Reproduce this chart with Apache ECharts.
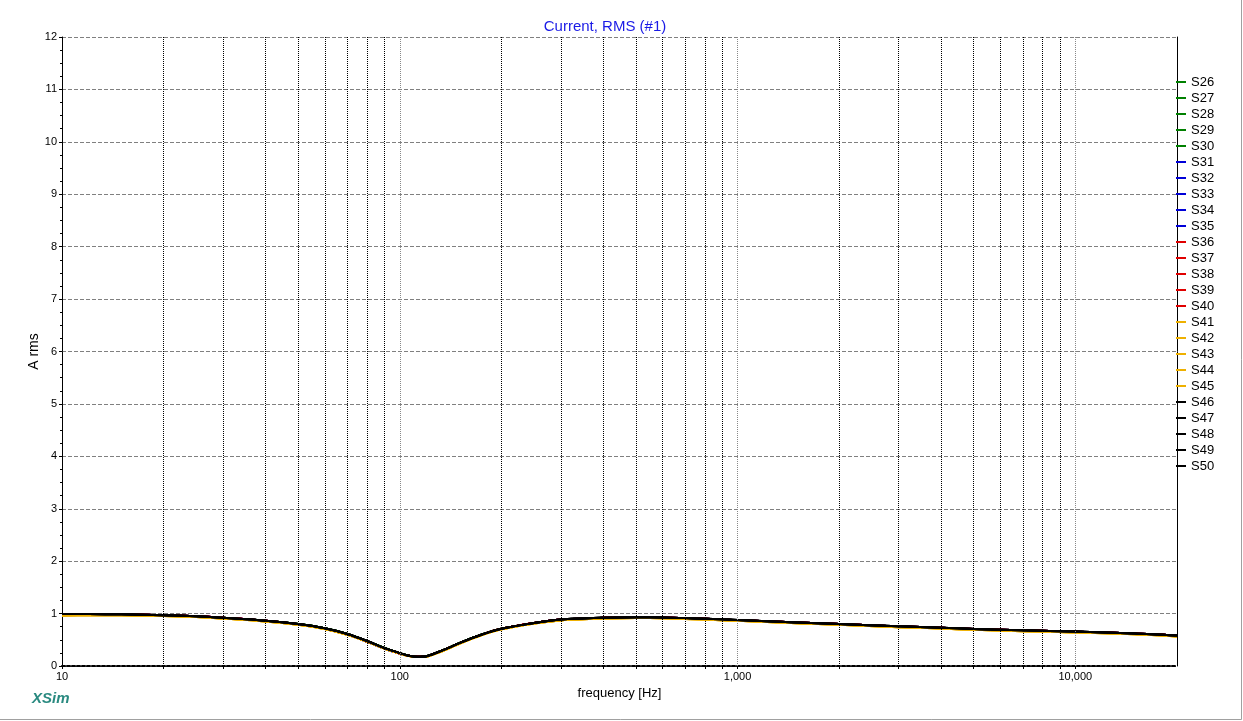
<!DOCTYPE html>
<html>
<head>
<meta charset="utf-8">
<script src="https://cdn.jsdelivr.net/npm/echarts@6/dist/echarts.min.js"></script>
<style>html,body{margin:0;padding:0;background:#fff;}#c{width:1243px;height:721px;}</style>
</head>
<body>
<div id="c"></div>
<script>
// frequencies [Hz]
const freqs = [10,12,15,20,25,30,40,50,60,70,80,90,100,105,110,115,120,130,140,150,175,200,250,300,400,500,600,700,800,1000,1500,2000,3000,4000,5000,7000,10000,15000,20000];
// current RMS per colour group (A rms)
const greenVals = [0.99,0.99,0.985,0.97,0.95,0.92,0.865,0.80,0.72,0.61,0.475,0.345,0.245,0.205,0.183,0.176,0.185,0.265,0.35,0.435,0.60,0.71,0.82,0.885,0.92,0.93,0.925,0.912,0.90,0.875,0.83,0.80,0.755,0.73,0.705,0.68,0.655,0.62,0.58];
const blueVals  = [0.99,0.99,0.985,0.97,0.95,0.92,0.862,0.795,0.712,0.60,0.465,0.335,0.238,0.2,0.18,0.174,0.183,0.262,0.347,0.432,0.598,0.708,0.82,0.885,0.92,0.93,0.925,0.912,0.90,0.875,0.83,0.80,0.755,0.73,0.705,0.68,0.655,0.62,0.58];
const redVals   = [0.99,0.99,0.985,0.97,0.95,0.92,0.862,0.795,0.712,0.60,0.467,0.337,0.24,0.201,0.181,0.175,0.184,0.263,0.348,0.433,0.599,0.709,0.82,0.885,0.92,0.93,0.925,0.912,0.90,0.875,0.83,0.80,0.755,0.73,0.705,0.68,0.655,0.62,0.58];
const goldVals  = [0.965,0.97,0.97,0.955,0.935,0.905,0.85,0.785,0.705,0.595,0.465,0.335,0.24,0.2,0.178,0.172,0.178,0.255,0.34,0.425,0.59,0.70,0.81,0.87,0.905,0.915,0.91,0.898,0.885,0.862,0.815,0.785,0.74,0.715,0.69,0.665,0.64,0.605,0.565];
const blackVals = [0.99,0.99,0.985,0.97,0.95,0.92,0.865,0.80,0.72,0.61,0.478,0.345,0.245,0.205,0.183,0.176,0.186,0.268,0.352,0.437,0.602,0.712,0.822,0.887,0.922,0.932,0.927,0.914,0.902,0.877,0.832,0.802,0.757,0.732,0.707,0.682,0.657,0.622,0.582];

const seriesNames = ['S26','S27','S28','S29','S30','S31','S32','S33','S34','S35','S36','S37','S38','S39','S40','S41','S42','S43','S44','S45','S46','S47','S48','S49','S50'];
const groups = [
  {vals: greenVals, color: '#008000'},
  {vals: blueVals,  color: '#0000d8'},
  {vals: redVals,   color: '#e00000'},
  {vals: goldVals,  color: '#eeb000'},
  {vals: blackVals, color: '#000000'}
];
// grid line positions
const minorGrid = [20,30,40,50,60,70,80,90,200,300,400,500,600,700,800,900,2000,3000,4000,5000,6000,7000,8000,9000];
const majorGrid = [100,1000,10000];
const xLabels = [10,100,1000,10000];
const tickVals = [10,20,30,40,50,60,70,80,90,100,200,300,400,500,600,700,800,900,1000,2000,3000,4000,5000,6000,7000,8000,9000,10000];

const FONT = 'Liberation Sans';
const series = seriesNames.map((name, i) => {
  const g = groups[Math.floor(i / 5)];
  const s = {
    name: name,
    type: 'line',
    xAxisIndex: 0, yAxisIndex: 0,
    symbol: 'none',
    smooth: 0.3,
    color: g.color,
    lineStyle: {width: 2, color: g.color},
    data: freqs.map((f, k) => [f, g.vals[k]]),
    z: 3
  };
  if (i === 0) {
    s.markLine = {
      silent: true, symbol: 'none', label: {show: false}, animation: false,
      data: minorGrid.map(v => ({xAxis: v, lineStyle: {type: 'dotted', color: '#000', width: 1}}))
        .concat(majorGrid.map(v => ({xAxis: v, lineStyle: {type: 'dotted', color: '#888', width: 1}})))
    };
  }
  return s;
});

const chart = echarts.init(document.getElementById('c'), null, {renderer: 'canvas'});
chart.setOption({
  animation: false,
  backgroundColor: '#fff',
  textStyle: {fontFamily: FONT},
  title: {
    text: 'Current, RMS (#1)', left: 600, top: 14, textAlign: 'center',
    textStyle: {fontFamily: FONT, fontSize: 15, fontWeight: 'normal', color: '#1a1ae6'}
  },
  legend: {
    orient: 'vertical', left: 1171, top: 70,
    icon: 'rect', itemWidth: 10, itemHeight: 2, itemGap: 2,
    textStyle: {fontFamily: FONT, fontSize: 13, color: '#000', lineHeight: 14},
    data: seriesNames, selectedMode: false
  },
  grid: {left: 62, right: 66, top: 37, bottom: 55, containLabel: false},
  xAxis: [{
    type: 'log', logBase: 10, min: 10, max: 20000,
    name: 'frequency [Hz]', nameLocation: 'middle', nameGap: 21,
    nameTextStyle: {fontFamily: FONT, fontSize: 13, color: '#000'},
    axisLine: {show: true, lineStyle: {color: '#000', width: 2, type: [3, 2]}},
    axisTick: {show: true, length: 3, inside: false, lineStyle: {color: '#000'}, customValues: tickVals},
    axisLabel: {fontFamily: FONT, fontSize: 11, color: '#000', margin: 5,
      customValues: xLabels,
      formatter: v => Number(v).toLocaleString('en-US')},
    splitLine: {show: false}
  }, {
    type: 'log', logBase: 10, min: 10, max: 20000, position: 'top',
    axisLine: {show: true, lineStyle: {color: '#000', width: 1, type: [3, 2]}},
    axisTick: {show: false}, axisLabel: {show: false}, splitLine: {show: false}
  }],
  yAxis: [{
    type: 'value', min: 0, max: 12, interval: 1,
    name: 'A rms', nameLocation: 'middle', nameGap: 21, nameRotate: 90, nameMoveOverlap: false,
    nameTextStyle: {fontFamily: FONT, fontSize: 14, color: '#000'},
    axisLine: {show: true, lineStyle: {color: '#000', width: 1}},
    axisTick: {show: true, length: 3, lineStyle: {color: '#000'}},
    minorTick: {show: true, splitNumber: 4, length: 2, lineStyle: {color: '#000'}},
    axisLabel: {fontFamily: FONT, fontSize: 11, color: '#000', margin: 5},
    splitLine: {show: true, lineStyle: {type: 'dashed', color: '#808080', width: 1}}
  }, {
    type: 'value', min: 0, max: 12, position: 'right',
    axisLine: {show: true, lineStyle: {color: '#000', width: 1}},
    axisTick: {show: false}, axisLabel: {show: false}, splitLine: {show: false}
  }],
  graphic: [
    {type: 'text', left: 32, top: 691, style: {text: 'XSim', fontFamily: FONT, fontSize: 15, fontStyle: 'italic', fontWeight: 'bold', fill: '#2a8a80'}},
    {type: 'line', shape: {x1: 0, y1: 719.5, x2: 1241.5, y2: 719.5}, style: {stroke: '#a0a0a0', lineWidth: 1}},
    {type: 'line', shape: {x1: 1241.5, y1: 0, x2: 1241.5, y2: 719.5}, style: {stroke: '#a0a0a0', lineWidth: 1}}
  ],
  series: series
});
</script>
</body>
</html>
